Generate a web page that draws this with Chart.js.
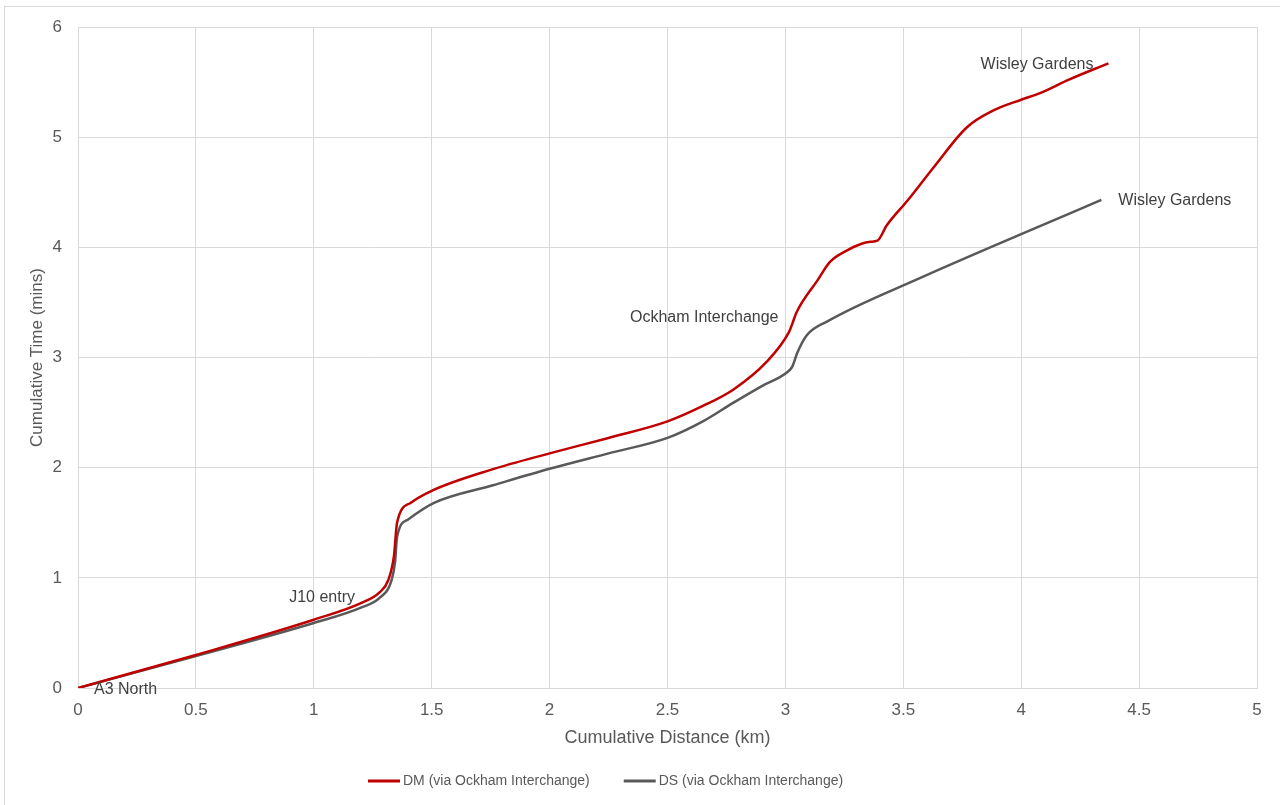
<!DOCTYPE html>
<html>
<head>
<meta charset="utf-8">
<script src="https://cdn.jsdelivr.net/npm/chart.js@4.4.1/dist/chart.umd.min.js"></script>
<style>
  html, body { margin: 0; padding: 0; background: #ffffff; }
  #wrap { width: 1280px; height: 805px; }
</style>
</head>
<body>
<div id="wrap"><canvas id="c" width="1280" height="805"></canvas></div>
<script>
// Cumulative distance (km) and cumulative time (mins) along the route
const dmDistance = [0, 0.5, 1.0, 1.2, 1.28, 1.316, 1.34, 1.353, 1.41, 1.5, 1.75, 2.0, 2.25, 2.5, 2.65, 2.78, 2.92, 3.015, 3.03, 3.045, 3.136, 3.19, 3.26, 3.32, 3.36, 3.39, 3.43, 3.52, 3.63, 3.77, 3.88, 4.0, 4.08, 4.2, 4.37];
const dmTime     = [0, 0.30, 0.62, 0.77, 0.87, 0.98, 1.2, 1.50, 1.68, 1.79, 1.98, 2.13, 2.27, 2.42, 2.56, 2.71, 2.96, 3.23, 3.31, 3.40, 3.70, 3.87, 3.97, 4.03, 4.05, 4.06, 4.20, 4.43, 4.73, 5.09, 5.24, 5.34, 5.40, 5.52, 5.67];

const dsDistance = [0, 0.5, 1.0, 1.2, 1.28, 1.33, 1.345, 1.353, 1.40, 1.51, 1.76, 2.0, 2.25, 2.5, 2.65, 2.78, 2.9, 3.01, 3.03, 3.05, 3.09, 3.18, 3.57, 4.0, 4.34];
const dsTime     = [0, 0.29, 0.59, 0.73, 0.82, 0.98, 1.15, 1.37, 1.53, 1.68, 1.84, 1.99, 2.13, 2.27, 2.42, 2.59, 2.74, 2.87, 2.92, 3.04, 3.20, 3.33, 3.72, 4.12, 4.43];

const seriesNames = ['DM (via Ockham Interchange)', 'DS (via Ockham Interchange)'];

const xTicks = [0, 0.5, 1, 1.5, 2, 2.5, 3, 3.5, 4, 4.5, 5];
const xTickLabels = ['0', '0.5', '1', '1.5', '2', '2.5', '3', '3.5', '4', '4.5', '5'];
const yTicks = [0, 1, 2, 3, 4, 5, 6];
const yTickLabels = ['0', '1', '2', '3', '4', '5', '6'];

// Point labels: text, series index, point index
const pointLabelTexts  = ['A3 North', 'J10 entry', 'Ockham Interchange', 'Wisley Gardens', 'Wisley Gardens'];
const pointLabelSeries = [0, 0, 0, 0, 1];
const pointLabelIndex  = [0, 3, 18, dmDistance.length - 1, dsDistance.length - 1];

const toPoints = (xs, ys) => xs.map((x, i) => ({ x: x, y: ys[i] }));

const FONT = '"Liberation Sans", Arial, sans-serif';

// label placement relative to its anchor point
const labelStyle = [
  { dx: 16,  dy: 2,  align: 'left'  },
  { dx: -6,  dy: -6, align: 'right' },
  { dx: -14, dy: -6, align: 'right' },
  { dx: -15, dy: 1,  align: 'right' },
  { dx: 17,  dy: 1,  align: 'left'  }
];

const pointLabelsPlugin = {
  id: 'pointLabels',
  afterDatasetsDraw(chart) {
    const ctx = chart.ctx;
    ctx.save();
    ctx.font = '16px ' + FONT;
    ctx.fillStyle = '#404040';
    ctx.textBaseline = 'middle';
    pointLabelTexts.forEach((text, i) => {
      const meta = chart.getDatasetMeta(pointLabelSeries[i]);
      const el = meta.data[pointLabelIndex[i]];
      if (!el) return;
      const st = labelStyle[i];
      ctx.textAlign = st.align;
      ctx.fillText(text, el.x + st.dx, el.y + st.dy);
    });
    ctx.restore();
  }
};

// Legend below the axis title: short line swatch followed by the series name
const bottomLegendPlugin = {
  id: 'bottomLegend',
  afterDraw(chart) {
    const ctx = chart.ctx;
    const cy = 781;
    const swatch = 32, gapText = 3, gapItem = 34;
    ctx.save();
    ctx.font = '14px ' + FONT;
    ctx.textBaseline = 'middle';
    ctx.textAlign = 'left';
    let x = 368;
    chart.data.datasets.forEach((ds) => {
      ctx.fillStyle = ds.borderColor;
      ctx.fillRect(x, cy - 1.5, swatch, 3);
      ctx.fillStyle = '#595959';
      ctx.fillText(ds.label, x + swatch + gapText, cy);
      x += swatch + gapText + ctx.measureText(ds.label).width + gapItem;
    });
    ctx.restore();
  }
};

const framePlugin = {
  id: 'frame',
  beforeDraw(chart) {
    const ctx = chart.ctx;
    ctx.save();
    ctx.fillStyle = '#ffffff';
    ctx.fillRect(0, 0, chart.width, chart.height);
    ctx.strokeStyle = '#d9d9d9';
    ctx.lineWidth = 1;
    ctx.strokeRect(4.5, 6.5, 1300, 820);
    ctx.restore();
  }
};

const tickFont = { family: FONT, size: 17 };

new Chart(document.getElementById('c'), {
  type: 'scatter',
  data: {
    datasets: [
      {
        label: seriesNames[0],
        data: toPoints(dmDistance, dmTime),
        showLine: true,
        borderColor: '#c00000',
        backgroundColor: '#c00000',
        borderWidth: 2.5,
        pointRadius: 0,
        cubicInterpolationMode: 'monotone'
      },
      {
        label: seriesNames[1],
        data: toPoints(dsDistance, dsTime),
        showLine: true,
        borderColor: '#595959',
        backgroundColor: '#595959',
        borderWidth: 2.5,
        pointRadius: 0,
        cubicInterpolationMode: 'monotone'
      }
    ]
  },
  options: {
    responsive: false,
    animation: false,
    layout: { padding: { left: 0, top: 27, right: 23, bottom: 47 } },
    plugins: {
      tooltip: { enabled: false },
      legend: { display: false }
    },
    scales: {
      x: {
        type: 'linear',
        min: 0,
        max: 5,
        afterBuildTicks: (scale) => { scale.ticks = xTicks.map(v => ({ value: v })); },
        afterFit: (scale) => { scale.height = 70; },
        ticks: {
          padding: 12,
          color: '#595959',
          font: tickFont,
          maxRotation: 0,
          callback: (value) => { const k = xTicks.indexOf(value); return k >= 0 ? xTickLabels[k] : ''; }
        },
        grid: { color: '#d9d9d9', lineWidth: 1, drawTicks: false },
        border: { color: '#d9d9d9' },
        title: {
          display: true,
          text: 'Cumulative Distance (km)',
          color: '#595959',
          font: { family: FONT, size: 18 },
          padding: { top: 4, bottom: 9 }
        }
      },
      y: {
        type: 'linear',
        min: 0,
        max: 6,
        afterBuildTicks: (scale) => { scale.ticks = yTicks.map(v => ({ value: v })); },
        afterFit: (scale) => { scale.width = 78; },
        ticks: {
          padding: 16,
          color: '#595959',
          font: tickFont,
          callback: (value) => { const k = yTicks.indexOf(value); return k >= 0 ? yTickLabels[k] : ''; }
        },
        grid: { color: '#d9d9d9', lineWidth: 1, drawTicks: false },
        border: { color: '#d9d9d9' },
        title: {
          display: true,
          text: 'Cumulative Time (mins)',
          color: '#595959',
          font: { family: FONT, size: 17 },
          padding: { top: 27, bottom: 0 }
        }
      }
    }
  },
  plugins: [framePlugin, pointLabelsPlugin, bottomLegendPlugin]
});
</script>
</body>
</html>
